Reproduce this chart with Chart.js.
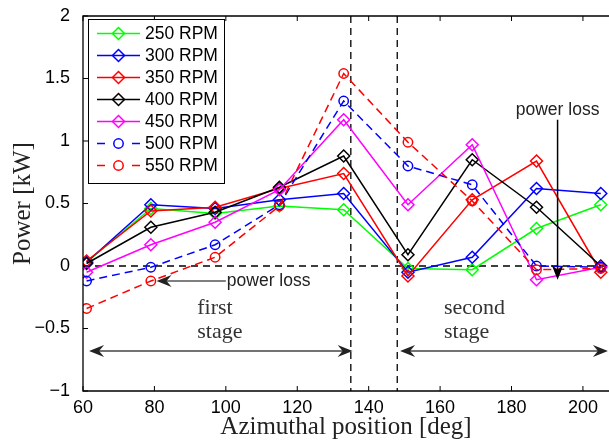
<!DOCTYPE html>
<html>
<head>
<meta charset="utf-8">
<script src="https://cdn.jsdelivr.net/npm/chart.js@4.4.1/dist/chart.umd.min.js"></script>
<style>
body{margin:0;background:#fff;}
#wrap{width:609px;height:444px;}
</style>
</head>
<body>
<div id="wrap"><canvas id="grafico" width="609" height="444"></canvas></div>
<script>
// posiciones azimutales (deg)
var posiciones = [61, 79, 97, 115, 133, 151, 169, 187, 205];

// potencia (kW) por velocidad
var rpm250 = [0.03, 0.46, 0.42, 0.48, 0.45, -0.02, -0.03, 0.30, 0.49];
var rpm300 = [0.03, 0.49, 0.46, 0.53, 0.58, -0.05, 0.07, 0.62, 0.58];
var rpm350 = [0.04, 0.44, 0.47, 0.62, 0.74, -0.08, 0.53, 0.84, -0.05];
var rpm400 = [0.02, 0.31, 0.43, 0.63, 0.88, 0.09, 0.85, 0.47, 0.00];
var rpm450 = [-0.05, 0.17, 0.35, 0.61, 1.17, 0.49, 0.97, -0.11, -0.01];
var rpm500 = [-0.12, -0.01, 0.17, 0.49, 1.32, 0.80, 0.65, 0.00, -0.01];
var rpm550 = [-0.34, -0.12, 0.07, 0.48, 1.54, 0.99, 0.52, -0.03, -0.02];

var etiquetas = ['250 RPM', '300 RPM', '350 RPM', '400 RPM', '450 RPM', '500 RPM', '550 RPM'];
var colores = ['#00ff00', '#0000ff', '#ff0000', '#000000', '#ff00ff', '#0000ff', '#ff0000'];
var series = [rpm250, rpm300, rpm350, rpm400, rpm450, rpm500, rpm550];

var ticksX = [60, 80, 100, 120, 140, 160, 180, 200];
var ticksY = [-1, -0.5, 0, 0.5, 1, 1.5, 2];
var lineasVerticales = [135, 148];

function puntos(arr) {
	return arr.map(function (v, i) { return {x: posiciones[i], y: v}; });
}

var datasets = series.map(function (s, i) {
	var discontinua = i >= 5;
	return {
		label: etiquetas[i],
		data: puntos(s),
		borderColor: colores[i],
		backgroundColor: 'rgba(0,0,0,0)',
		borderWidth: 1.5,
		borderDash: discontinua ? [8, 5] : [],
		pointStyle: discontinua ? 'circle' : 'rectRot',
		pointRadius: discontinua ? 4.7 : 6,
		pointBorderWidth: 1.5,
		pointBorderColor: colores[i],
		pointBackgroundColor: 'rgba(0,0,0,0)',
		tension: 0,
		order: 7 - i
	};
});

function flecha(ctx, x, y, ang, color) {
	var largo = 15, ancho = 6, muesca = 10;
	ctx.save();
	ctx.translate(x, y);
	ctx.rotate(ang);
	ctx.fillStyle = color;
	ctx.setLineDash([]);
	ctx.beginPath();
	ctx.moveTo(0, 0);
	ctx.lineTo(-largo, -ancho);
	ctx.lineTo(-muesca, 0);
	ctx.lineTo(-largo, ancho);
	ctx.closePath();
	ctx.fill();
	ctx.restore();
}

function marcador(ctx, tipo, x, y, color) {
	ctx.save();
	ctx.setLineDash([]);
	ctx.strokeStyle = color;
	ctx.lineWidth = 1.5;
	ctx.beginPath();
	if (tipo == 'circle') {
		ctx.arc(x, y, 4.7, 0, Math.PI * 2);
	} else {
		ctx.moveTo(x, y - 6);
		ctx.lineTo(x + 6, y);
		ctx.lineTo(x, y + 6);
		ctx.lineTo(x - 6, y);
		ctx.closePath();
	}
	ctx.stroke();
	ctx.restore();
}

var anotaciones = {
	id: 'anotaciones',
	beforeDatasetsDraw: function (chart) {
		var ctx = chart.ctx, a = chart.chartArea, sx = chart.scales.x, sy = chart.scales.y;
		ctx.save();
		ctx.strokeStyle = '#000';
		ctx.lineWidth = 1.3;
		ctx.setLineDash([7, 5]);
		var y0 = sy.getPixelForValue(0);
		ctx.beginPath();
		ctx.moveTo(a.left, y0);
		ctx.lineTo(a.right, y0);
		ctx.stroke();
		lineasVerticales.forEach(function (v) {
			var px = sx.getPixelForValue(v);
			ctx.beginPath();
			ctx.moveTo(px, a.top);
			ctx.lineTo(px, a.bottom);
			ctx.stroke();
		});
		ctx.restore();
	},
	afterDatasetsDraw: function (chart) {
		var ctx = chart.ctx, a = chart.chartArea, sx = chart.scales.x, sy = chart.scales.y;
		ctx.save();
		ctx.setLineDash([]);

		// power loss (primera etapa)
		var yp = sy.getPixelForValue(-0.12);
		var xa = sx.getPixelForValue(100), xb = sx.getPixelForValue(80.6);
		ctx.strokeStyle = '#555';
		ctx.lineWidth = 1.5;
		ctx.beginPath();
		ctx.moveTo(xa, yp);
		ctx.lineTo(xb + 8, yp);
		ctx.stroke();
		flecha(ctx, xb, yp, Math.PI, '#222');
		ctx.fillStyle = '#222';
		ctx.font = '17.5px "Liberation Sans"';
		ctx.textBaseline = 'middle';
		ctx.textAlign = 'left';
		ctx.fillText('power loss', xa + 1, yp);

		// power loss (segunda etapa)
		var xv = sx.getPixelForValue(192.9);
		var yt = sy.getPixelForValue(-0.11);
		ctx.textAlign = 'center';
		ctx.fillText('power loss', xv, sy.getPixelForValue(1.25));
		ctx.strokeStyle = '#000';
		ctx.beginPath();
		ctx.moveTo(xv, sy.getPixelForValue(1.17));
		ctx.lineTo(xv, yt - 8);
		ctx.stroke();
		flecha(ctx, xv, yt, Math.PI / 2, '#000');

		// etapas
		ctx.fillStyle = '#333';
		ctx.font = '22px "Liberation Serif"';
		ctx.textAlign = 'left';
		ctx.textBaseline = 'alphabetic';
		ctx.fillText('first', sx.getPixelForValue(92), sy.getPixelForValue(-0.38));
		ctx.fillText('stage', sx.getPixelForValue(92), sy.getPixelForValue(-0.575));
		ctx.fillText('second', sx.getPixelForValue(161.1), sy.getPixelForValue(-0.38));
		ctx.fillText('stage', sx.getPixelForValue(161.1), sy.getPixelForValue(-0.575));

		// flechas dobles
		var yd = sy.getPixelForValue(-0.68);
		var tramos = [[61.7, 135.5], [148.8, 207]];
		ctx.strokeStyle = '#444';
		ctx.lineWidth = 1.5;
		tramos.forEach(function (t) {
			var p1 = sx.getPixelForValue(t[0]), p2 = sx.getPixelForValue(t[1]);
			ctx.beginPath();
			ctx.moveTo(p1 + 8, yd);
			ctx.lineTo(p2 - 8, yd);
			ctx.stroke();
			flecha(ctx, p1, yd, Math.PI, '#222');
			flecha(ctx, p2, yd, 0, '#222');
		});
		ctx.restore();
	},
	afterDraw: function (chart) {
		var ctx = chart.ctx, a = chart.chartArea, sx = chart.scales.x, sy = chart.scales.y;
		ctx.save();
		ctx.setLineDash([]);
		// marco
		ctx.strokeStyle = '#000';
		ctx.lineWidth = 1.3;
		ctx.beginPath();
		ctx.moveTo(a.right + 2, a.top);
		ctx.lineTo(a.left, a.top);
		ctx.lineTo(a.left, a.bottom);
		ctx.lineTo(a.right + 2, a.bottom);
		ctx.stroke();
		// marcas hacia dentro
		ctx.lineWidth = 1;
		ticksX.forEach(function (v) {
			var px = sx.getPixelForValue(v);
			ctx.beginPath();
			ctx.moveTo(px, a.bottom); ctx.lineTo(px, a.bottom - 5);
			ctx.moveTo(px, a.top); ctx.lineTo(px, a.top + 5);
			ctx.stroke();
		});
		ticksY.forEach(function (v) {
			var py = sy.getPixelForValue(v);
			ctx.beginPath();
			ctx.moveTo(a.left, py); ctx.lineTo(a.left + 5, py);
			ctx.stroke();
		});

		// leyenda
		var lx = 88.5, ly = 19.5, lw = 136, lh = 164;
		ctx.fillStyle = '#fff';
		ctx.fillRect(lx, ly, lw, lh);
		ctx.strokeStyle = '#000';
		ctx.lineWidth = 1;
		ctx.strokeRect(lx, ly, lw, lh);
		ctx.font = '17.5px "Liberation Sans"';
		ctx.textBaseline = 'middle';
		ctx.textAlign = 'left';
		etiquetas.forEach(function (et, i) {
			var yy = 33.5 + 22 * i;
			ctx.strokeStyle = colores[i];
			ctx.lineWidth = 1.5;
			ctx.beginPath();
			if (i >= 5) {
				ctx.moveTo(97, yy); ctx.lineTo(105, yy);
				ctx.moveTo(132, yy); ctx.lineTo(140, yy);
			} else {
				ctx.moveTo(97, yy); ctx.lineTo(140, yy);
			}
			ctx.stroke();
			marcador(ctx, i >= 5 ? 'circle' : 'rectRot', 118.5, yy, colores[i]);
			ctx.fillStyle = '#000';
			ctx.fillText(et, 145, yy + 1);
		});
		ctx.restore();
	}
};

var grafico = new Chart(document.getElementById('grafico'), {
	type: 'line',
	data: {datasets: datasets},
	plugins: [anotaciones],
	options: {
		responsive: false,
		animation: false,
		layout: {autoPadding: false, padding: {top: 16, right: 0, left: 0, bottom: 0}},
		plugins: {legend: {display: false}, tooltip: {enabled: false}},
		scales: {
			x: {
				type: 'linear',
				min: 60,
				max: 207.3,
				grid: {display: false},
				border: {display: false},
				ticks: {
					stepSize: 20,
					includeBounds: false,
					color: '#000',
					padding: -2,
					maxRotation: 0,
					font: {family: 'Liberation Sans', size: 18}
				},
				title: {
					display: true,
					text: 'Azimuthal position [deg]',
					color: '#222',
					padding: {top: 0, bottom: 2},
					font: {family: 'Liberation Serif', size: 25}
				},
				afterFit: function (scale) {
					scale.height = 53;
					scale.paddingRight = 0;
					scale.paddingLeft = 0;
				}
			},
			y: {
				min: -1,
				max: 2,
				grid: {display: false},
				border: {display: false},
				ticks: {
					stepSize: 0.5,
					color: '#000',
					padding: 5,
					font: {family: 'Liberation Sans', size: 18},
					callback: function (v) { return v < 0 ? '\u2212' + Math.abs(v) : '' + v; }
				},
				title: {
					display: true,
					text: 'Power [kW]',
					color: '#222',
					padding: {top: 8, bottom: 0},
					font: {family: 'Liberation Serif', size: 25}
				},
				afterFit: function (scale) { scale.width = 83; }
			}
		}
	}
});
</script>
</body>
</html>
